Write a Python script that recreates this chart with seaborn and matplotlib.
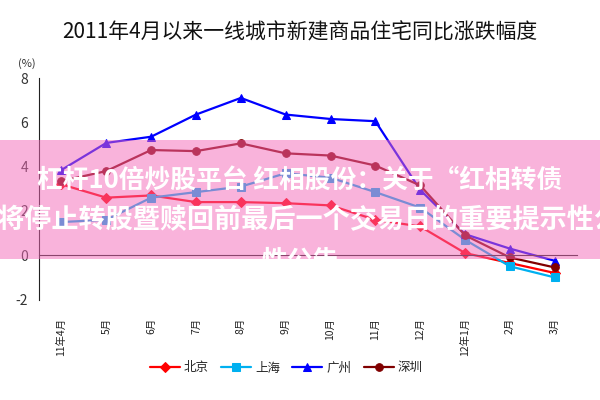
import numpy as np
import pandas as pd
import matplotlib
matplotlib.use("Agg")
import matplotlib.pyplot as plt
import seaborn as sns
from matplotlib.patches import Rectangle

# data (YoY change, %)
months = ["11年4月", "5月", "6月", "7月", "8月", "9月", "10月", "11月",
          "12月", "12年1月", "2月", "3月"]
beijing = [3.2, 2.6, 2.7, 2.4, 2.4, 2.35, 2.25, 1.6, 1.3, 0.1, -0.35, -0.8]
shanghai = [1.5, 1.6, 2.6, 2.85, 3.1, 3.7, 3.5, 2.85, 2.15, 0.7, -0.5, -1.0]
guangzhou = [3.85, 5.07, 5.35, 6.35, 7.1, 6.35, 6.15, 6.05, 2.95, 0.95, 0.3, -0.25]
shenzhen = [3.35, 3.8, 4.75, 4.7, 5.05, 4.6, 4.5, 4.05, 3.15, 0.9, -0.1, -0.55]

cities = ["北京", "上海", "广州", "深圳"]
colors = ["#FF0000", "#00B0F0", "#0000FF", "#800000"]
markers = ["D", "s", "^", "o"]

title = "2011年4月以来一线城市新建商品住宅同比涨跌幅度"
overlay_lines = ["杠杆10倍炒股平台 红相股份：关于“红相转债",
                 "即将停止转股暨赎回前最后一个交易日的重要提示性公",
                 "性公告"]

sns.set_style("white")
plt.rcParams["font.family"] = ["Noto Sans CJK SC", "DejaVu Sans"]
plt.rcParams["axes.unicode_minus"] = False

df = pd.DataFrame({"pos": np.arange(len(months)), "北京": beijing,
                   "上海": shanghai, "广州": guangzhou, "深圳": shenzhen})
long = df.melt(id_vars="pos", value_vars=cities, var_name="city", value_name="pct")

fig = plt.figure(figsize=(6, 4), dpi=100)
ax = fig.add_axes([0.065, 0.251, 0.897, 0.554])

sns.lineplot(data=long, x="pos", y="pct", hue="city", style="city",
             hue_order=cities, style_order=cities, palette=colors,
             markers=markers, dashes=False, linewidth=1.6, markersize=5.5,
             ax=ax)
for line in ax.lines:
    line.set_markeredgecolor(line.get_color())
    line.set_markerfacecolor(line.get_color())
ax.legend_.remove()

# axes look (excel style: category axis crossing at 0, labels at the bottom)
ax.set_xlim(-0.5, 11.5)
ax.set_ylim(-2, 8)
ax.set_xlabel("")
ax.set_ylabel("")
for s in ["top", "right"]:
    ax.spines[s].set_visible(False)
ax.spines["bottom"].set_position(("data", 0))
ax.spines["bottom"].set_color("#222222")
ax.spines["left"].set_color("#222222")
ax.set_xticks(np.arange(-0.5, 12, 1))
ax.set_xticklabels([])
ax.tick_params(axis="x", direction="in", length=4, color="#222222")
ax.set_yticks([-2, 0, 2, 4, 6, 8])
ax.tick_params(axis="y", direction="in", length=4, color="#222222",
               labelsize=10, labelcolor="#333333", pad=8)

sec = ax.secondary_xaxis("bottom")
sec.set_xticks(np.arange(len(months)), labels=months)
sec.tick_params(length=0, pad=13, labelsize=7.5, labelrotation=90, labelcolor="#222222")
sec.spines["bottom"].set_visible(False)

fig.text(0.045, 0.842, "(%)", fontsize=8, ha="center", va="center", color="#333333")
fig.text(0.5, 0.918, title, fontsize=15, ha="center", va="center", color="#111111")

fig.legend(ax.lines[:4], cities, loc="center", bbox_to_anchor=(0.477, 0.08),
           ncol=4, frameon=False, fontsize=9, handlelength=2.4,
           columnspacing=1.0, handletextpad=0.3)

# pink banner laid over the chart
band = Rectangle((0, 0.3525), 1, 0.2975, transform=fig.transFigure,
                 facecolor=(245 / 255, 105 / 255, 185 / 255), alpha=0.5,
                 edgecolor="none", zorder=10)
fig.add_artist(band)
for txt, x, y, fs in zip(overlay_lines, [0.5, 0.494, 0.5], [0.55, 0.45, 0.3475], [18.5, 19.5, 18.5]):
    t = fig.text(x, y, txt, color="white", fontsize=fs, fontweight="bold",
                 ha="center", va="center", zorder=11)
    t.set_clip_path(band)

fig.savefig("out.png", dpi=100)
